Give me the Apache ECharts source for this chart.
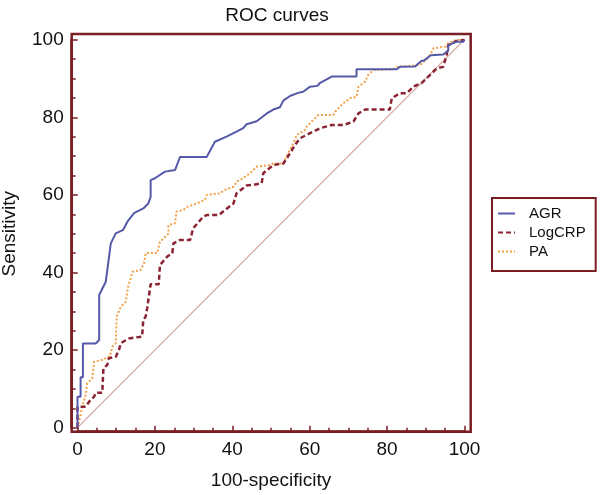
<!DOCTYPE html>
<html>
<head>
<meta charset="utf-8">
<script src="https://cdn.jsdelivr.net/npm/echarts@6/dist/echarts.min.js"></script>
<style>html,body{margin:0;padding:0;background:#fff;}#c{width:600px;height:495px;}</style>
</head>
<body>
<div id="c"></div>
<script>
const titleText = 'ROC curves';
const xName = '100-specificity';
const yName = 'Sensitivity';
const seriesNames = ['AGR', 'LogCRP', 'PA'];
const axisMin = 0, axisMax = 100, axisStep = 20, minorSplit = 4;
const frameX = [-1.5, 101.6];
const frameY = [-1.03, 101.47];

const agr = [[0,0],[0,8],[0.8,8],[0.8,13],[1.4,13],[1.4,21.7],[4.7,21.7],[5.6,22.6],[5.6,34.2],[7.3,37.6],[8.6,47.5],[9.9,50.1],[11.8,51],[12.9,53.1],[14.6,55.3],[17,56.5],[18.3,57.8],[18.9,59.5],[18.9,63.8],[20,64.3],[22.6,66],[25.2,66.4],[25.6,67.4],[26.5,69.8],[33.4,69.8],[35.5,73.7],[38.5,75],[41.1,76.3],[41.5,76.3],[42.8,77.2],[43.7,78.2],[46.3,79],[48.9,81],[50.6,82],[52.3,82.6],[53.2,84.3],[54.9,85.5],[57,86.3],[58.3,86.6],[60.1,87.9],[62,88.1],[62.7,88.9],[65.7,90.5],[72.1,90.5],[72.1,92.4],[82.5,92.4],[83.3,93],[87.2,93.1],[88.9,94.6],[89.5,94.6],[91.3,96],[94.5,96.2],[95.8,97.2],[95.8,98.6],[98,99.5],[99.7,99.5],[100,100]];

const logcrp = [[0,0],[0,5.4],[2.1,5.4],[3,6.7],[4.3,8],[4.7,9],[6.4,9],[6.7,15.3],[7.7,16.2],[8.1,17.9],[9.9,18.3],[10.7,20],[11.2,21.8],[13.3,23],[16.7,23.5],[17,27.8],[17.6,28.6],[18,30.8],[18.9,37],[21,37],[21.3,41.9],[22.4,43.2],[23.2,44.1],[24.5,45],[24.8,47.5],[26.5,48.4],[29.1,48.4],[29.9,51.4],[32.5,54.4],[33.4,54.8],[36.5,54.8],[38.1,56.1],[40.3,57.8],[41.1,60.4],[43.7,62.4],[45.4,62.6],[47.6,63],[48,65.6],[50.6,67.7],[53.2,68.1],[54.9,70.7],[56.2,72.9],[57.5,74.6],[60.1,75.9],[62.7,77.2],[65.7,78],[68.7,78],[71.3,78.9],[72.6,81],[74.3,82],[80.7,82],[81.2,84.9],[83.3,86.2],[85.1,86.2],[86.8,87.9],[88.9,88.8],[91.5,91.3],[92.8,92.6],[94.5,93],[95.4,96.1],[95.8,98.6],[98,99.7],[100,100]];

const pa = [[0,0],[0.8,3.3],[1.2,5.4],[2.1,8.4],[2.5,11.4],[3.8,12.7],[4.3,17],[6.8,17.6],[7.7,18.3],[8.3,18.3],[9,20.9],[9.9,21.8],[10.1,28.6],[11.2,31.2],[12.5,32.5],[13,36],[14.2,40.2],[16.3,40.6],[17.2,42.4],[17.6,45],[20.6,45],[21.3,47.9],[21.5,48.4],[23.5,50],[23.5,52.2],[25.2,52.7],[25.6,55.7],[27.3,56.1],[28.6,57],[30.8,57.8],[32.9,58.7],[33.4,60],[36.8,60.4],[38.1,61.3],[40.3,62.1],[41.1,63.4],[42.8,64.3],[44.6,65.6],[46.3,67.3],[49.7,67.7],[50.6,68.1],[53.2,68.1],[54,70],[55.8,73.3],[56.6,75.4],[58.8,76.7],[59.2,77.6],[60.5,78.9],[62.2,80.6],[66.1,80.6],[67,82],[68.7,83.6],[70.4,84.9],[72.1,85.3],[72.6,87.9],[74.3,89.2],[75.1,90.9],[76.4,92.2],[81.6,92.4],[82.5,93],[88.5,93.5],[90.2,95],[91.1,96.1],[92,97.8],[95,98.2],[95.8,99.1],[98,100],[100,100]];

const diagonal = [[0,0],[100,100]];

const FONT = '"Liberation Sans", Arial, Helvetica, sans-serif';
const FRAME = '#7a1e23';
const chart = echarts.init(document.getElementById('c'), null, {renderer: 'canvas'});

function axisCommon(name, offset, gap, labelMargin) {
  return {
    type: 'value', min: axisMin, max: axisMax, interval: axisStep, offset: offset,
    name: name, nameLocation: 'middle', nameGap: gap,
    nameTextStyle: {fontSize: 19, color: '#111', fontFamily: FONT},
    axisLine: {show: true, onZero: false, lineStyle: {color: FRAME, width: 2.5}},
    splitLine: {show: false},
    minorSplitLine: {show: false},
    axisTick: {show: true, inside: true, length: 6, lineStyle: {color: FRAME, width: 1.5}},
    minorTick: {show: true, splitNumber: minorSplit, length: 4, lineStyle: {color: FRAME, width: 1.5}},
    axisLabel: {show: true, fontSize: 19, color: '#111', fontFamily: FONT, margin: labelMargin}
  };
}

const xAxisOpt = Object.assign(axisCommon(xName, 4, 40, 9), {position: 'bottom'});
const yAxisOpt = Object.assign(axisCommon(yName, 5.8, 52, 8), {position: 'left'});

chart.setOption({
  animation: false,
  backgroundColor: '#fff',
  title: {text: titleText, left: 272, textAlign: 'center', top: 1,
    textStyle: {fontSize: 19, fontWeight: 'normal', color: '#111', fontFamily: FONT}},
  grid: {left: 77.5, top: 39.7, right: 135.5, bottom: 67.3, show: false,
    outerBoundsMode: 'none'},
  xAxis: xAxisOpt,
  yAxis: yAxisOpt,
  legend: {
    data: seriesNames, orient: 'vertical', left: 492, top: 198,
    padding: [8, 10, 12, 5], itemGap: 4, itemWidth: 17, itemHeight: 14,
    borderColor: FRAME, borderWidth: 2, backgroundColor: '#fff',
    itemStyle: {opacity: 0},
    textStyle: {fontSize: 15, color: '#111', fontFamily: FONT, padding: [0, 0, 0, 9]}
  },
  series: [
    {name: 'diag', type: 'line', data: diagonal, symbol: 'none', silent: true,
      lineStyle: {color: '#d39c9c', width: 1.1}, z: 1},
    {name: seriesNames[0], type: 'line', data: agr, symbol: 'none',
      lineStyle: {color: '#5459a8', width: 2}, itemStyle: {color: '#5459a8'}, z: 4},
    {name: seriesNames[1], type: 'line', data: logcrp, symbol: 'none',
      lineStyle: {color: '#8a2432', width: 2.5, type: [5, 3]}, itemStyle: {color: '#8a2432'}, z: 3},
    {name: seriesNames[2], type: 'line', data: pa, symbol: 'none',
      lineStyle: {color: '#f2a048', width: 2, type: [2, 2]}, itemStyle: {color: '#f2a048'}, z: 2}
  ]
});

const pA = chart.convertToPixel({gridIndex: 0}, [frameX[0], frameY[1]]);
const pB = chart.convertToPixel({gridIndex: 0}, [frameX[1], frameY[0]]);
chart.setOption({
  graphic: [{
    type: 'rect', z: -1, silent: true,
    shape: {x: pA[0], y: pA[1], width: pB[0] - pA[0], height: pB[1] - pA[1]},
    style: {fill: 'none', stroke: FRAME, lineWidth: 2.5}
  }]
});
</script>
</body>
</html>
